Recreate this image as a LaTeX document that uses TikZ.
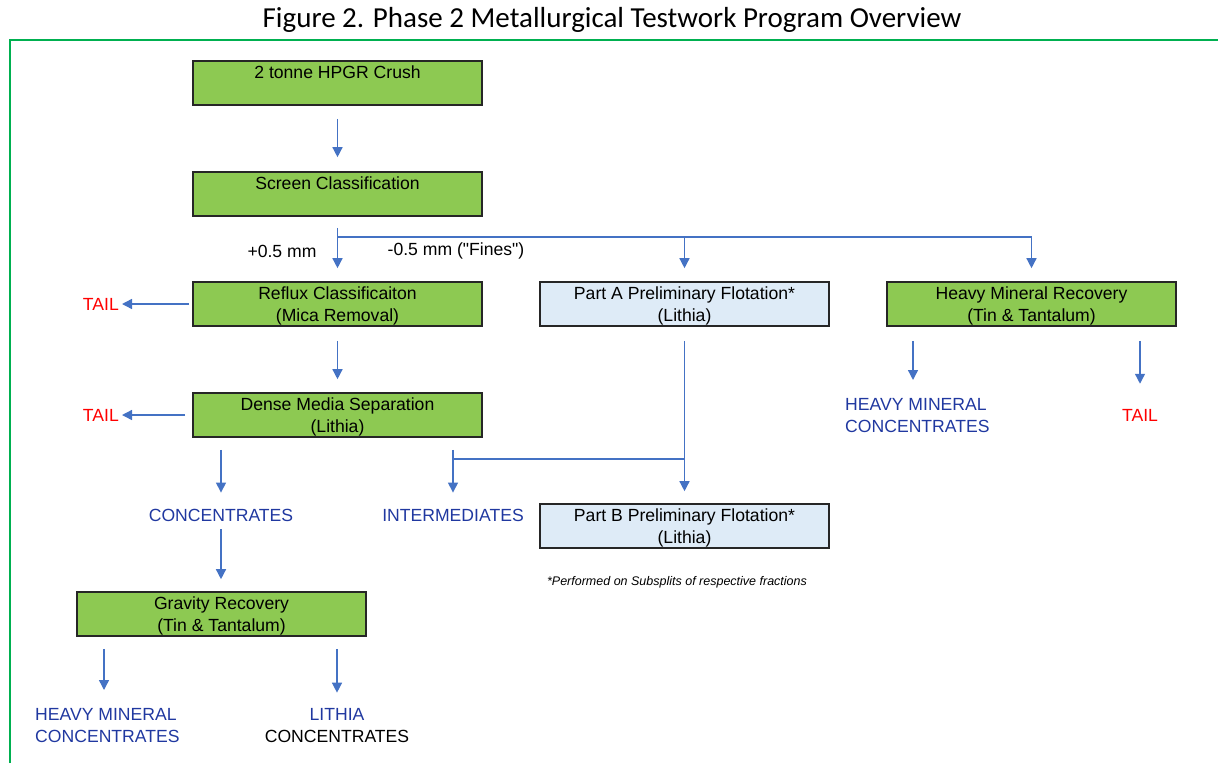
\documentclass[tikz,border=0pt]{standalone}
\usepackage{fontspec}
\setmainfont{Liberation Sans}
\newfontfamily\titlefont{Carlito}
\usepackage{tikz}
\usetikzlibrary{arrows.meta}
\usetikzlibrary{calc}
\definecolor{boxgreen}{RGB}{141,201,82}
\definecolor{boxblue}{RGB}{222,235,247}
\definecolor{flowblue}{RGB}{68,114,196}
\definecolor{textblue}{RGB}{32,56,160}
\definecolor{framegreen}{RGB}{0,176,80}
\newcommand{\topstrut}{\rule{0pt}{17pt}}
\newcommand{\plainquote}{\XeTeXglyph\XeTeXcharglyph"22\relax}

\begin{document}
\begin{tikzpicture}[x=1pt, y=-1pt, font=\fontsize{17.6}{22}\selectfont,
    stage/.style={draw=black!85, line width=1.6pt, fill=boxgreen, minimum width=289pt, minimum height=44pt, inner sep=0pt, align=center},
    flotation/.style={stage, fill=boxblue},
    flow/.style={draw=flowblue, line width=1.4pt, -{Triangle[width=10pt,length=10pt]}},
    link/.style={draw=flowblue, line width=1.4pt},
    product/.style={inner sep=0pt, align=center, text=textblue},
    tail/.style={inner sep=0pt, text=red}]
    \useasboundingbox (0,0) rectangle (1218,763);
    % frame and title
    \draw[framegreen, line width=2pt] (10,763) -- (10,40) -- (1218,40);
    \node[font=\titlefont\fontsize{29}{34}\selectfont] (title) at (612,20) {Figure 2. Phase 2 Metallurgical Testwork Program Overview};
    % process stages
    \node[stage] (crush) at (337.5,83) {\topstrut 2 tonne HPGR Crush\\\phantom{(y)}};
    \node[stage] (screen) at (337.5,194) {\topstrut Screen Classification\\\phantom{(y)}};
    \node[stage] (reflux) at (337.5,304) {\topstrut Reflux Classificaiton\\(Mica Removal)};
    \node[flotation] (partA) at (684.5,304) {\topstrut Part A Preliminary Flotation*\\(Lithia)};
    \node[stage] (heavy) at (1031.5,304) {\topstrut Heavy Mineral Recovery\\(Tin \& Tantalum)};
    \node[stage] (dms) at (337.5,415) {\topstrut Dense Media Separation\\(Lithia)};
    \node[flotation] (partB) at (684.5,526) {\topstrut Part B Preliminary Flotation*\\(Lithia)};
    \node[stage] (gravity) at (221.5,614) {\topstrut Gravity Recovery\\(Tin \& Tantalum)};
    % products
    \node[tail, anchor=east] (tailA) at (119,304) {TAIL};
    \node[tail, anchor=east] (tailB) at (119,415) {TAIL};
    \node[tail] (tailC) at (1140,415) {TAIL};
    \node[product] (conc) at (221,515) {CONCENTRATES};
    \node[product] (inter) at (453,515) {INTERMEDIATES};
    \node[product, anchor=west, align=left] (hmcR) at (845,416) {HEAVY MINERAL\\CONCENTRATES};
    \node[product, anchor=west, align=left] (hmcL) at (35,726) {HEAVY MINERAL\\CONCENTRATES};
    \node[product] (lithconc) at (337,726) {LITHIA\\\textcolor{black}{CONCENTRATES}};
    % labels
    \node[inner sep=0pt] (coarse) at (282,251) {+0.5 mm};
    \node[inner sep=0pt] (fines) at (456,251) {-0.5 mm (\plainquote Fines\plainquote)};
    \node[inner sep=0pt, font=\itshape\fontsize{12.5}{15}\selectfont] (note) at (677,582) {*Performed on Subsplits of respective fractions};
    % connectors
    \coordinate (split) at (screen.south |- 0,237);
    \coordinate (join) at (partA.south |- 0,459);
    \coordinate (hmL) at (104,690);
    \coordinate (hmR) at (913,380);
    \draw[flow, shorten <=13pt, shorten >=14pt] (crush.south) -- (screen.north);
    \draw[flow, shorten <=11pt, shorten >=13pt] (screen.south) -- (reflux.north);
    \draw[link] (split) -- (split -| heavy.north);
    \draw[flow, shorten >=13pt] (split) -| (partA.north);
    \draw[flow, shorten >=13pt] (split) -| (heavy.north);
    \draw[flow, shorten <=3pt, shorten >=3pt] (reflux.west) -- (tailA.east);
    \draw[flow, shorten <=7pt, shorten >=3pt] (dms.west) -- (tailB.east);
    \draw[flow, shorten <=14pt, shorten >=13pt] (reflux.south) -- (dms.north);
    \draw[flow, shorten <=14pt, shorten >=12pt] (partA.south) -- (partB.north);
    \draw[link] (join) -- (join -| inter.north);
    \draw[flow, shorten <=12pt, shorten >=16pt] (inter.north |- dms.south) -- (inter.north);
    \draw[flow, shorten <=12pt, shorten >=16pt] (conc.north |- dms.south) -- (conc.north);
    \draw[flow, shorten <=8pt, shorten >=12pt] (conc.south) -- (conc.south |- gravity.north);
    \draw[flow, shorten <=12pt] (gravity.south -| hmL) -- (hmL);
    \draw[flow, shorten <=12pt, shorten >=16pt] (gravity.south -| lithconc.north) -- (lithconc.north);
    \draw[flow, shorten <=14pt] (heavy.south -| hmR) -- (hmR);
    \draw[flow, shorten <=14pt, shorten >=25pt] (heavy.south -| tailC.north) -- (tailC.north);
\end{tikzpicture}
\end{document}
